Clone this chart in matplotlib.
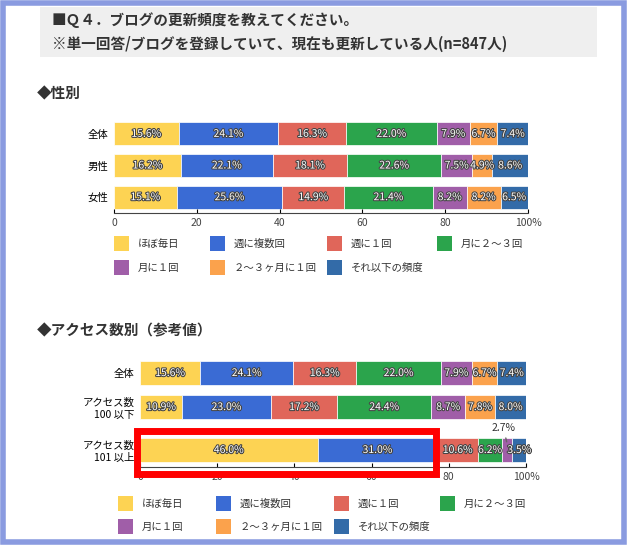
import matplotlib.pyplot as plt
import matplotlib.patches as mpatches
import matplotlib.patheffects as pe

plt.rcParams['font.family'] = ['Noto Sans CJK JP', 'DejaVu Sans']

categories = ['ほぼ毎日', '週に複数回', '週に１回', '月に２～３回', '月に１回', '２～３ヶ月に１回', 'それ以下の頻度']
colors = ['#FDD353', '#3A6BD4', '#E0665A', '#2BA44C', '#A05EA8', '#FBA24C', '#336BA8']

rows1 = ['全体', '男性', '女性']
vals1 = [[15.6, 24.1, 16.3, 22.0, 7.9, 6.7, 7.4],
         [16.2, 22.1, 18.1, 22.6, 7.5, 4.9, 8.6],
         [15.1, 25.6, 14.9, 21.4, 8.2, 8.2, 6.5]]
rows2 = ['全体', 'アクセス数\n100 以下', 'アクセス数\n101 以上']
vals2 = [[15.6, 24.1, 16.3, 22.0, 7.9, 6.7, 7.4],
         [10.9, 23.0, 17.2, 24.4, 8.7, 7.8, 8.0],
         [46.0, 31.0, 10.6, 6.2, 2.7, 0.0, 3.5]]
ticks = [0, 20, 40, 60, 80, 100]
tick_labels = ['0', '20', '40', '60', '80', '100%']

W, H = 627, 545
fig = plt.figure(figsize=(W / 100, H / 100), dpi=100)

def box(x, y, w, h):
    return [x / W, 1 - (y + h) / H, w / W, h / H]

# outer frame and title background
fig.patches.append(mpatches.Rectangle((3 / W, 3 / H), 621 / W, 539 / H, transform=fig.transFigure,
                                      fill=False, ec='#8A9BE0', lw=4))
fig.patches.append(mpatches.Rectangle((40 / W, 1 - 57 / H), 557 / W, 50 / H, transform=fig.transFigure,
                                      fc='#EFEFEF', ec='none'))
fig.text(52 / W, 1 - 20 / H, '■Ｑ４．ブログの更新頻度を教えてください。', fontsize=10.5, weight='bold',
         va='center', color='#333333')
fig.text(52 / W, 1 - 44 / H, '※単一回答/ブログを登録していて、現在も更新している人(n=847人)', fontsize=10.5,
         weight='bold', va='center', color='#333333')
fig.text(37 / W, 1 - 93 / H, '◆性別', fontsize=10.5, weight='bold', va='center', color='#333333')
fig.text(37 / W, 1 - 330 / H, '◆アクセス数別（参考値）', fontsize=10.5, weight='bold', va='center', color='#333333')

stroke = [pe.withStroke(linewidth=1.5, foreground='#444444')]

def draw_bars(ax, rows, vals, ypos, height):
    for r, v in enumerate(vals):
        left = 0
        for i, x in enumerate(v):
            if x > 0:
                ax.barh(ypos[r], x, left=left, height=height, color=colors[i], ec='white', lw=0.5)
                if x >= 3:
                    ax.text(left + x / 2, ypos[r], f'{x:.1f}%', ha='center', va='center', fontsize=7.5,
                            color='white', path_effects=stroke)
            left += x
    ax.set_xlim(0, 100)
    ax.set_yticks(ypos)
    ax.set_yticklabels(rows, fontsize=7.5)
    ax.set_xticks(ticks)
    ax.set_xticklabels(tick_labels, fontsize=7.5, color='#444444')
    ax.tick_params(axis='y', length=0, pad=4)
    ax.tick_params(axis='x', length=3, direction='in')
    for s in ['top', 'right', 'left']:
        ax.spines[s].set_visible(False)
    ax.spines['bottom'].set_color('#444444')

ax1 = fig.add_axes(box(114, 118, 414, 95))
draw_bars(ax1, rows1, vals1, [0, 1, 2], 0.72)
ax1.set_ylim(2.5, -0.5)

ax2 = fig.add_axes(box(140, 356, 386, 111))
yp2 = [0, 1, 2.26]
draw_bars(ax2, rows2, vals2, yp2, 0.72)
ax2.set_ylim(2.76, -0.5)
# small 2.7% label with leader line
x27 = sum(vals2[2][:4]) + vals2[2][4] / 2
ax2.annotate('2.7%', xy=(x27, 2.1), xytext=(x27 - 1, 1.6), fontsize=7.5, ha='center', va='center',
             color='#333333', arrowprops=dict(arrowstyle='-', color='#666666', lw=1))

# red highlight box
fig.patches.append(mpatches.Rectangle((137 / W, 1 - 474 / H), 299 / W, 43 / H, transform=fig.transFigure,
                                      fill=False, ec='#FF0000', lw=5, zorder=10))

def legend(xs, ys):
    for i, c in enumerate(categories):
        x = xs[i % 4]
        y = ys[i // 4]
        fig.patches.append(mpatches.Rectangle((x / W, 1 - (y + 7) / H), 15 / W, 15 / H,
                                              transform=fig.transFigure, fc=colors[i], ec='none'))
        fig.text((x + 24) / W, 1 - y / H, c, fontsize=7.5, va='center', color='#333333')

legend([114, 210, 327, 437], [244, 268])
legend([118, 216, 334, 440], [504, 527])

fig.savefig('out.png', dpi=100)
